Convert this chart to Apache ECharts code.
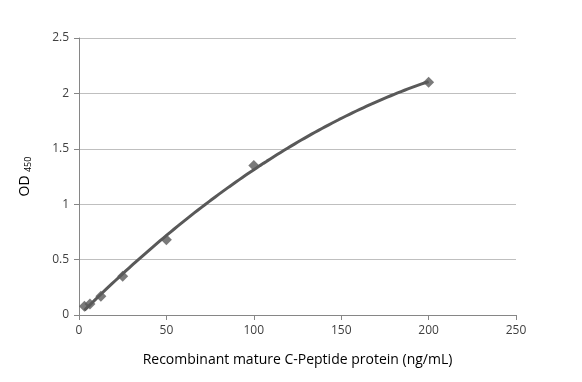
<!DOCTYPE html>
<html><head><meta charset="utf-8">
<script src="https://cdn.jsdelivr.net/npm/echarts@6/dist/echarts.min.js"></script>
<style>html,body{margin:0;padding:0;background:#fff}#c{width:582px;height:382px}</style>
</head><body><div id="c"></div>
<script>
const concentrations = [3.125, 6.25, 12.5, 25, 50, 100, 200];
const odValues = [0.08, 0.10, 0.17, 0.35, 0.68, 1.35, 2.10];
const xTicks = [0, 50, 100, 150, 200, 250];
const yTicks = [0, 0.5, 1, 1.5, 2, 2.5];

const pts = concentrations.map((x, i) => [x, odValues[i]]);

// Polynomial (order 2) least-squares trendline computed from the data, as in the source chart
function quadFit(xs, ys) {
  let S = [0,0,0,0,0], T = [0,0,0];
  for (let i = 0; i < xs.length; i++) {
    let p = 1;
    for (let k = 0; k < 5; k++) { S[k] += p; if (k < 3) T[k] += p * ys[i]; p *= xs[i]; }
  }
  const A = [[S[0],S[1],S[2],T[0]],[S[1],S[2],S[3],T[1]],[S[2],S[3],S[4],T[2]]];
  for (let i = 0; i < 3; i++) {
    for (let j = i+1; j < 3; j++) {
      const f = A[j][i] / A[i][i];
      for (let k = i; k < 4; k++) A[j][k] -= f * A[i][k];
    }
  }
  const c = [0,0,0];
  for (let i = 2; i >= 0; i--) {
    let s = A[i][3];
    for (let k = i+1; k < 3; k++) s -= A[i][k] * c[k];
    c[i] = s / A[i][i];
  }
  return c;
}
const coef = quadFit(concentrations, odValues);
const xMinD = Math.min(...concentrations), xMaxD = Math.max(...concentrations);
const trend = [];
for (let i = 0; i <= 100; i++) {
  const x = xMinD + (xMaxD - xMinD) * i / 100;
  trend.push([x, coef[0] + coef[1]*x + coef[2]*x*x]);
}

const chart = echarts.init(document.getElementById('c'), null, {renderer: 'canvas'});
const font = 'Open Sans, Liberation Sans, sans-serif';
chart.setOption({
  animation: false,
  grid: {left: 79, right: 66, top: 38, bottom: 67},
  xAxis: {
    type: 'value', min: xTicks[0], max: xTicks[xTicks.length-1], interval: 50,
    name: 'Recombinant mature C-Peptide protein (ng/mL)',
    nameLocation: 'middle', nameGap: 38,
    nameTextStyle: {fontFamily: font, fontSize: 14, color: '#000'},
    axisLine: {show: true, lineStyle: {color: '#868686', width: 1}},
    axisTick: {show: true, length: 5, lineStyle: {color: '#868686'}},
    axisLabel: {fontFamily: font, fontSize: 12, color: '#404040', margin: 10},
    splitLine: {show: false}
  },
  yAxis: {
    type: 'value', min: yTicks[0], max: yTicks[yTicks.length-1], interval: 0.5,
    name: '{m|OD} {s|450}',
    nameLocation: 'middle', nameGap: 46,
    nameTextStyle: {
      rich: {
        m: {fontFamily: font, fontSize: 14, color: '#000'},
        s: {fontFamily: font, fontSize: 9, color: '#000', padding: [7, 0, 0, 0]}
      }
    },
    axisLine: {show: true, lineStyle: {color: '#868686', width: 1}},
    axisTick: {show: true, length: 5, lineStyle: {color: '#868686'}},
    axisLabel: {fontFamily: font, fontSize: 12, color: '#404040', margin: 10},
    splitLine: {show: true, lineStyle: {color: '#bfbfbf', width: 1}}
  },
  series: [{
    type: 'line', data: trend, showSymbol: false, symbol: 'none',
    lineStyle: {color: '#595959', width: 3}, z: 2
  }, {
    type: 'scatter', data: pts,
    symbol: 'diamond', symbolSize: 11,
    itemStyle: {color: '#595959'}, z: 3
  }]
});
</script></body></html>
